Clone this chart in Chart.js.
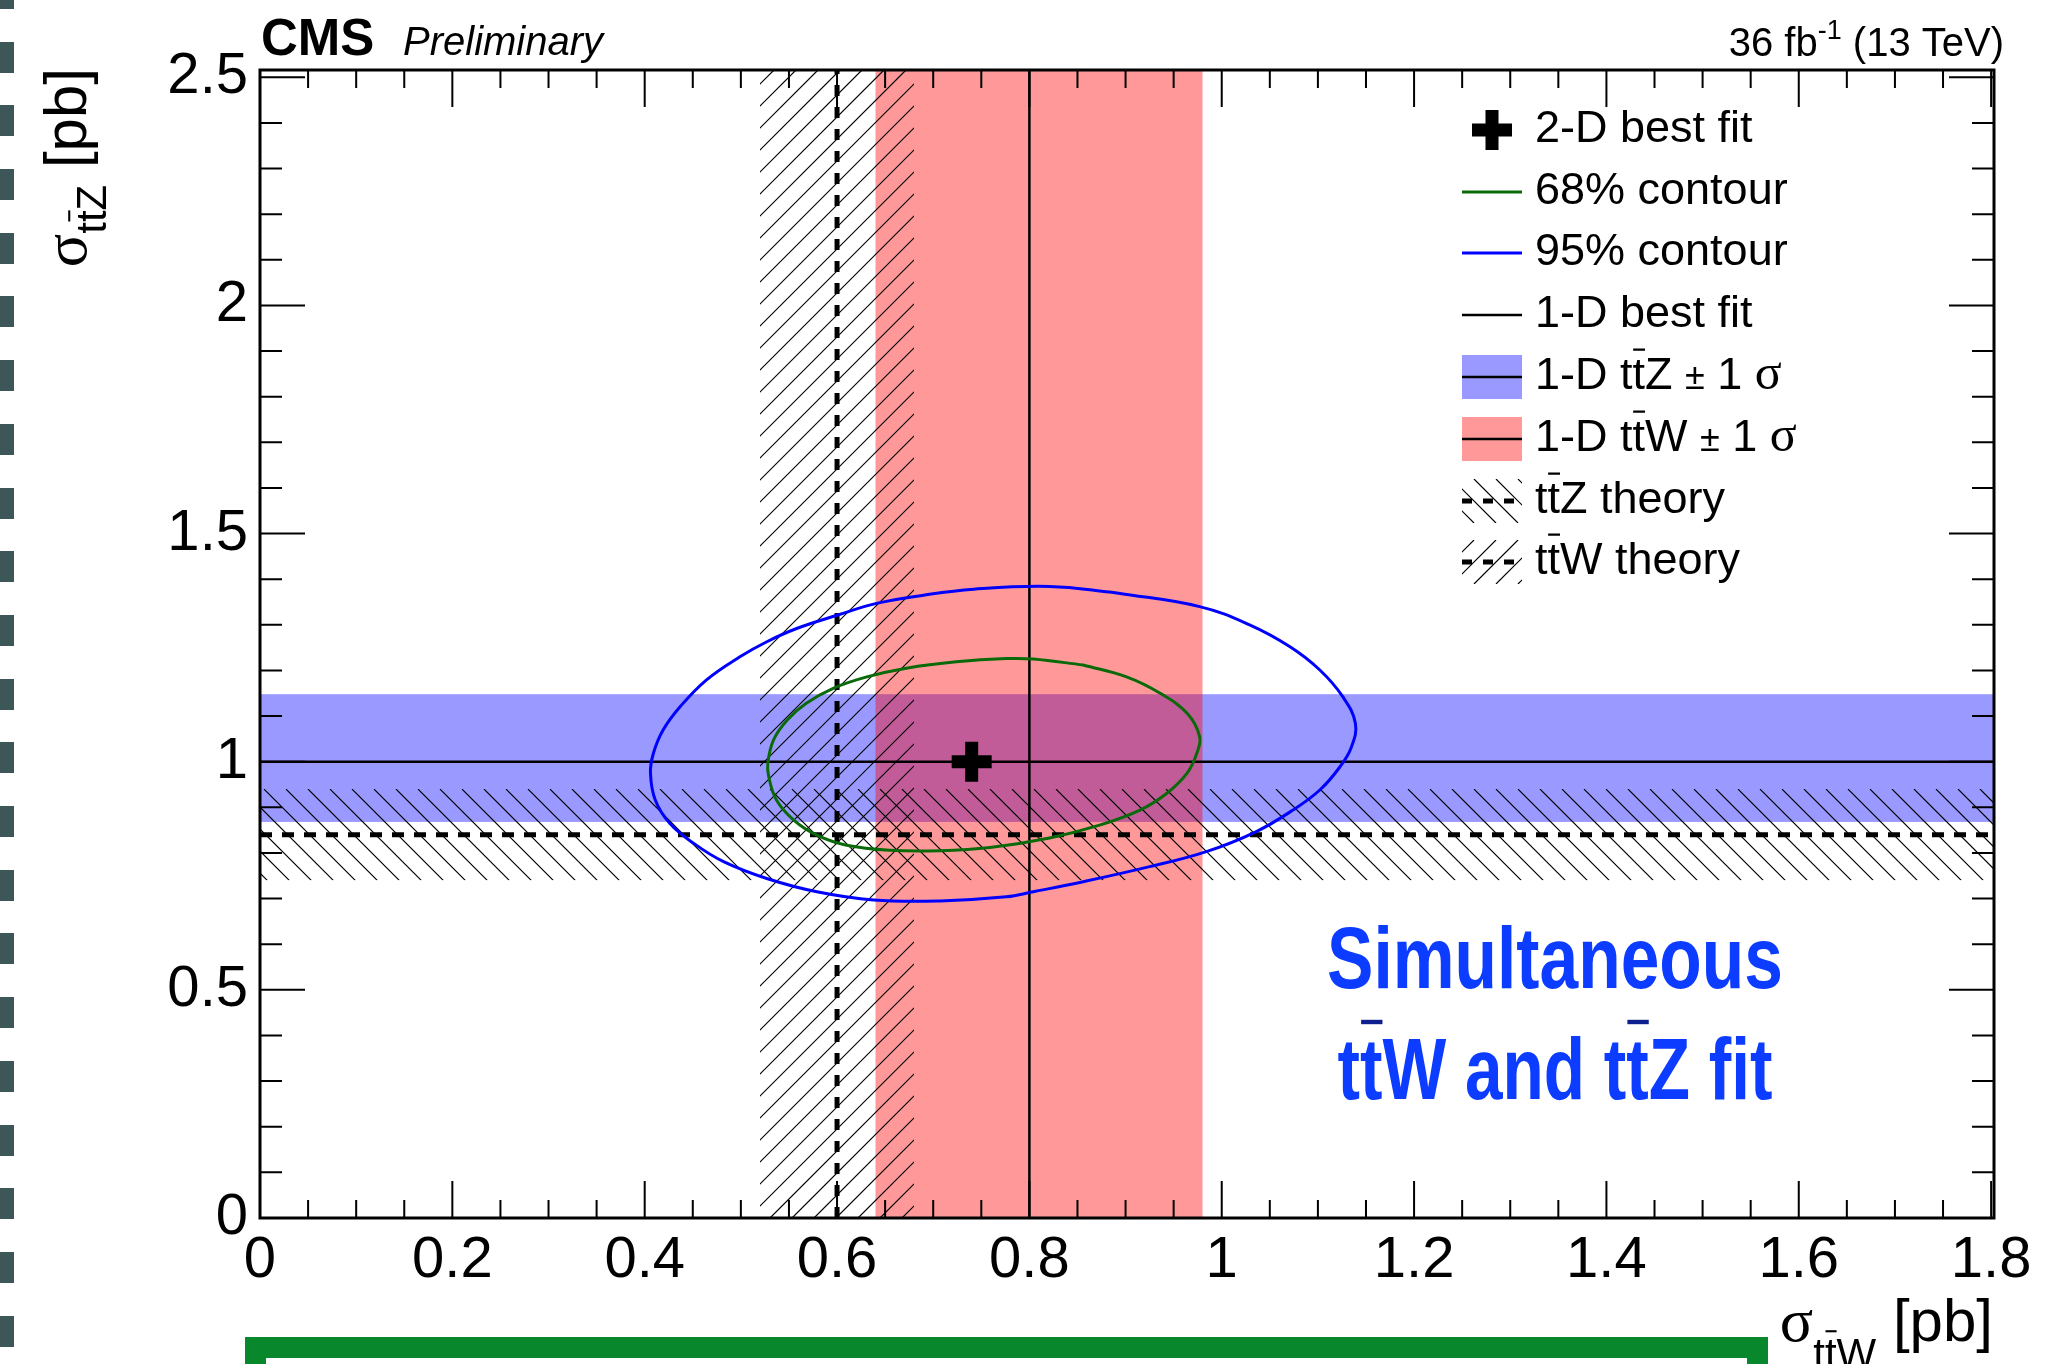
<!DOCTYPE html>
<html>
<head>
<meta charset="utf-8">
<script src="https://cdn.jsdelivr.net/npm/chart.js@4.4.1/dist/chart.umd.min.js"></script>
<style>
  html, body { margin: 0; padding: 0; background: #fff; }
  body { width: 2071px; height: 1364px; position: relative; overflow: hidden; }
  #c { position: absolute; left: 0; top: 0; }
  .dots {
    position: absolute; left: 0; top: -22px; width: 14px; height: 1420px;
    background: repeating-linear-gradient(to bottom, #3d5759 0 31px, transparent 31px 63.7px);
  }
  .box {
    position: absolute; left: 245px; top: 1337px; width: 1523px; height: 90px;
    border: 21px solid #08872d; box-sizing: border-box;
  }
</style>
</head>
<body>
<canvas id="c" width="2071" height="1364"></canvas>
<div class="dots"></div>
<div class="box"></div>
<script>
// axis ticks / ranges
const xTicks = [0, 0.2, 0.4, 0.6, 0.8, 1, 1.2, 1.4, 1.6, 1.8];
const yTicks = [0, 0.5, 1, 1.5, 2, 2.5];
const xRange = [0, 1.803];
const yRange = [0, 2.516];

// fit results (pb)
const bestFit2D = [0.74, 1.0];      // [ttW, ttZ]
const bestFit1D = [0.80, 1.0];      // [ttW, ttZ]
const ttwBand = [0.64, 0.98];       // 1-D ttW +- 1 sigma
const ttzBand = [0.868, 1.148];     // 1-D ttZ +- 1 sigma
const ttwTheory = [0.52, 0.60, 0.68]; // low, central, high
const ttzTheory = [0.74, 0.84, 0.94];

// 68% contour
const c68X = [0.856, 0.804, 0.776, 0.724, 0.672, 0.631, 0.596, 0.568, 0.548, 0.534, 0.528, 0.529, 0.537, 0.555, 0.579,
  0.610, 0.655, 0.707, 0.759, 0.821, 0.873, 0.915, 0.943, 0.964, 0.974, 0.977, 0.964, 0.936, 0.901, 0.856];
const c68Y = [1.212, 1.225, 1.226, 1.219, 1.205, 1.186, 1.161, 1.128, 1.091, 1.048, 0.997, 0.967, 0.916, 0.872, 0.839,
  0.817, 0.806, 0.805, 0.812, 0.833, 0.861, 0.894, 0.931, 0.975, 1.018, 1.055, 1.106, 1.150, 1.186, 1.212];

// 95% contour
const c95X = [0.891, 0.821, 0.742, 0.690, 0.641, 0.600, 0.558, 0.527, 0.499, 0.464, 0.437, 0.419, 0.409, 0.406, 0.411,
  0.426, 0.451, 0.482, 0.527, 0.579, 0.638, 0.707, 0.776, 0.804, 0.856, 0.925, 0.984, 1.036, 1.074, 1.102, 1.123,
  1.135, 1.139, 1.126, 1.102, 1.071, 1.029, 0.977, 0.891];
const c95Y = [1.370, 1.384, 1.378, 1.365, 1.347, 1.321, 1.292, 1.263, 1.230, 1.179, 1.121, 1.069, 1.018, 0.975, 0.916,
  0.865, 0.821, 0.781, 0.744, 0.715, 0.697, 0.695, 0.704, 0.715, 0.737, 0.770, 0.803, 0.847, 0.894, 0.938, 0.989,
  1.033, 1.084, 1.142, 1.201, 1.252, 1.300, 1.340, 1.370];

const SANS = '"Liberation Sans", Arial, Helvetica, sans-serif';
const SERIF = '"Liberation Serif", "Times New Roman", serif';
const BLUE_BAND = 'rgba(0,0,255,0.4)';
const RED_BAND = 'rgba(255,0,0,0.4)';

const pts = (xs, ys) => xs.map((x, i) => ({ x: x, y: ys[i] }));

function hatch(ctx, x0, y0, x1, y1, dir) {
  const gap = 22, h = y1 - y0;
  ctx.save();
  ctx.beginPath();
  ctx.rect(x0, y0, x1 - x0, y1 - y0);
  ctx.clip();
  ctx.strokeStyle = '#000';
  ctx.lineWidth = 1.2;
  ctx.beginPath();
  const start = Math.floor((x0 - h) / gap) * gap;
  for (let c = start; c <= x1 + h; c += gap) {
    if (dir > 0) { ctx.moveTo(c, y1); ctx.lineTo(c + h, y0); }
    else { ctx.moveTo(c, y0); ctx.lineTo(c + h, y1); }
  }
  ctx.stroke();
  ctx.restore();
}

// text made of runs: {t, size, bold, italic, serif, dy, bar}
function fontOf(r) {
  return (r.italic ? 'italic ' : '') + (r.bold ? 'bold ' : '') + r.size + 'px ' + (r.serif ? SERIF : SANS);
}
function runsWidth(ctx, runs) {
  let w = 0;
  runs.forEach(r => { ctx.font = fontOf(r); w += ctx.measureText(r.t).width; });
  return w;
}
function drawRuns(ctx, runs, x, y, align, barColor) {
  let cx = align === 'right' ? x - runsWidth(ctx, runs) : x;
  ctx.textAlign = 'left';
  ctx.textBaseline = 'alphabetic';
  runs.forEach(r => {
    ctx.font = fontOf(r);
    const w = ctx.measureText(r.t).width;
    const yy = y + (r.dy || 0);
    ctx.fillText(r.t, cx, yy);
    if (r.bar) {
      ctx.save();
      ctx.fillStyle = barColor || ctx.fillStyle;
      ctx.fillRect(cx + w * 0.05, yy - r.size * 0.9, w * 0.95, Math.max(2, r.size * 0.05));
      ctx.restore();
    }
    cx += w;
  });
}

const bands = {
  id: 'bands',
  beforeDatasetsDraw(chart) {
    const { ctx, chartArea: a, scales: { x, y } } = chart;
    ctx.save();
    ctx.fillStyle = BLUE_BAND;
    const zt = y.getPixelForValue(ttzBand[1]), zb = y.getPixelForValue(ttzBand[0]);
    ctx.fillRect(a.left, zt, a.width, zb - zt);
    ctx.fillStyle = RED_BAND;
    const wl = x.getPixelForValue(ttwBand[0]), wr = x.getPixelForValue(ttwBand[1]);
    ctx.fillRect(wl, a.top, wr - wl, a.height);
    hatch(ctx, a.left, y.getPixelForValue(ttzTheory[2]), a.right, y.getPixelForValue(ttzTheory[0]), -1);
    hatch(ctx, x.getPixelForValue(ttwTheory[0]), a.top, x.getPixelForValue(ttwTheory[2]), a.bottom, 1);
    ctx.restore();
  }
};

const frame = {
  id: 'frame',
  afterDatasetsDraw(chart) {
    const { ctx, chartArea: a, scales: { x, y } } = chart;
    ctx.save();
    ctx.strokeStyle = '#000';
    ctx.lineWidth = 2;
    ctx.beginPath();
    for (let i = 0; i <= 36; i++) {
      const px = x.getPixelForValue(i * 0.05);
      const len = i % 4 === 0 ? 37 : 18;
      ctx.moveTo(px, a.bottom); ctx.lineTo(px, a.bottom - len);
      ctx.moveTo(px, a.top); ctx.lineTo(px, a.top + len);
    }
    for (let i = 0; i <= 25; i++) {
      const py = y.getPixelForValue(i * 0.1);
      const len = i % 5 === 0 ? 45 : 22;
      ctx.moveTo(a.left, py); ctx.lineTo(a.left + len, py);
      ctx.moveTo(a.right, py); ctx.lineTo(a.right - len, py);
    }
    ctx.stroke();
    ctx.lineWidth = 3;
    ctx.strokeRect(a.left, a.top, a.width, a.height);
    ctx.restore();
  }
};

const texts = {
  id: 'texts',
  afterDraw(chart) {
    const ctx = chart.ctx;
    ctx.save();
    ctx.fillStyle = '#000';

    // header
    drawRuns(ctx, [{ t: 'CMS', size: 51, bold: true }], 261, 55, 'left');
    drawRuns(ctx, [{ t: 'Preliminary', size: 40, italic: true }], 403, 55, 'left');
    drawRuns(ctx, [
      { t: '36 fb', size: 40 }, { t: '-1', size: 27, dy: -17 }, { t: ' (13 TeV)', size: 40 }
    ], 2004, 56, 'right');

    // axis titles
    drawRuns(ctx, [
      { t: '\u03C3', size: 62, serif: true },
      { t: 't', size: 42, dy: 27 }, { t: 't', size: 42, dy: 27, bar: true }, { t: 'W', size: 42, dy: 27 },
      { t: ' [pb]', size: 60 }
    ], 1993, 1341, 'right');
    ctx.save();
    ctx.translate(86, 68);
    ctx.rotate(-Math.PI / 2);
    drawRuns(ctx, [
      { t: '\u03C3', size: 62, serif: true },
      { t: 't', size: 42, dy: 20 }, { t: 't', size: 42, dy: 20, bar: true }, { t: 'Z', size: 42, dy: 20 },
      { t: ' [pb]', size: 60 }
    ], 0, 0, 'right');
    ctx.restore();

    // legend
    const L = 1462, R = 1522, TX = 1535, rows = [130, 192, 253, 315, 377, 439, 501, 562];
    const seg = (yy, color, w, dash) => {
      ctx.save();
      ctx.strokeStyle = color; ctx.lineWidth = w; ctx.setLineDash(dash || []);
      ctx.beginPath(); ctx.moveTo(L, yy); ctx.lineTo(R, yy); ctx.stroke();
      ctx.restore();
    };
    // cross
    ctx.fillRect(1492 - 20, rows[0] - 6.5, 40, 13);
    ctx.fillRect(1492 - 6.5, rows[0] - 20, 13, 40);
    seg(rows[1], '#0a6a0a', 3);
    seg(rows[2], '#0000ff', 3);
    seg(rows[3], '#000', 2.5);
    ctx.fillStyle = '#9999ff'; ctx.fillRect(L, rows[4] - 22, R - L, 44);
    ctx.fillStyle = '#ff9999'; ctx.fillRect(L, rows[5] - 22, R - L, 44);
    ctx.fillStyle = '#000';
    seg(rows[4], '#000', 2.5);
    seg(rows[5], '#000', 2.5);
    hatch(ctx, L, rows[6] - 22, R, rows[6] + 22, -1);
    hatch(ctx, L, rows[7] - 22, R, rows[7] + 22, 1);
    seg(rows[6], '#000', 5, [10, 11]);
    seg(rows[7], '#000', 5, [10, 11]);

    const f = 45;
    const tt = (last) => [{ t: 't', size: f }, { t: 't', size: f, bar: true }, { t: last, size: f }];
    const sig = [{ t: ' ', size: f }, { t: '\u00B1', size: 36 }, { t: ' 1 ', size: f }, { t: '\u03C3', size: 50, serif: true }];
    const labels = [
      [{ t: '2-D best fit', size: f }],
      [{ t: '68% contour', size: f }],
      [{ t: '95% contour', size: f }],
      [{ t: '1-D best fit', size: f }],
      [{ t: '1-D ', size: f }].concat(tt('Z'), sig),
      [{ t: '1-D ', size: f }].concat(tt('W'), sig),
      tt('Z theory'),
      tt('W theory')
    ];
    labels.forEach((runs, i) => drawRuns(ctx, runs, TX, rows[i] + 12, 'left'));

    // annotation
    const big = 88;
    const line1 = [{ t: 'Simultaneous', size: big, bold: true }];
    const line2 = [
      { t: 't', size: big, bold: true }, { t: 't', size: big, bold: true, bar: true },
      { t: 'W and ', size: big, bold: true },
      { t: 't', size: big, bold: true }, { t: 't', size: big, bold: true, bar: true },
      { t: 'Z fit', size: big, bold: true }
    ];
    ctx.fillStyle = '#0b3cff';
    [[line1, 988, 456], [line2, 1099, 435]].forEach(([runs, base, target]) => {
      const w = runsWidth(ctx, runs);
      ctx.save();
      ctx.translate(1555 - target / 2, base);
      ctx.scale(target / w, 1);
      drawRuns(ctx, runs, 0, 0, 'left', '#0d1f8c');
      ctx.restore();
    });
    ctx.restore();
  }
};

const lineSet = (data, color, width, dash) => ({
  data: data, showLine: true, pointRadius: 0, borderColor: color, borderWidth: width,
  borderDash: dash || [], fill: false, tension: 0
});

const c68 = lineSet(pts(c68X, c68Y), '#0a6a0a', 3);
c68.tension = 0.4;
const c95 = lineSet(pts(c95X, c95Y), '#0000ff', 3);
c95.tension = 0.4;

new Chart(document.getElementById('c'), {
  type: 'scatter',
  data: {
    datasets: [
      {
        data: [{ x: bestFit2D[0], y: bestFit2D[1] }],
        pointStyle: 'cross', pointRadius: 20, pointBorderWidth: 13,
        pointBorderColor: '#000', pointBackgroundColor: '#000', showLine: false
      },
      c68,
      c95,
      lineSet([{ x: bestFit1D[0], y: yRange[0] }, { x: bestFit1D[0], y: yRange[1] }], '#000', 2.5),
      lineSet([{ x: xRange[0], y: bestFit1D[1] }, { x: xRange[1], y: bestFit1D[1] }], '#000', 2.5),
      lineSet([{ x: ttwTheory[1], y: yRange[0] }, { x: ttwTheory[1], y: yRange[1] }], '#000', 5, [11, 11]),
      lineSet([{ x: xRange[0], y: ttzTheory[1] }, { x: xRange[1], y: ttzTheory[1] }], '#000', 5, [12, 10])
    ]
  },
  options: {
    responsive: false,
    animation: false,
    devicePixelRatio: 1,
    events: [],
    layout: { padding: { top: 70, right: 77, left: 0, bottom: 0 } },
    plugins: { legend: { display: false }, tooltip: { enabled: false } },
    scales: {
      x: {
        type: 'linear', min: xRange[0], max: xRange[1],
        afterBuildTicks: s => { s.ticks = xTicks.map(v => ({ value: v })); },
        afterFit: s => { s.height = 146; },
        grid: { display: false, drawTicks: false, tickLength: 0 },
        border: { display: false },
        ticks: {
          autoSkip: false, maxRotation: 0, padding: 8, color: '#000',
          font: { family: SANS, size: 58 }, callback: v => String(v)
        }
      },
      y: {
        type: 'linear', min: yRange[0], max: yRange[1],
        afterBuildTicks: s => { s.ticks = yTicks.map(v => ({ value: v })); },
        afterFit: s => { s.width = 260; },
        grid: { display: false, drawTicks: false, tickLength: 0 },
        border: { display: false },
        ticks: {
          autoSkip: false, padding: 12, color: '#000',
          font: { family: SANS, size: 58 }, callback: v => String(v)
        }
      }
    }
  },
  plugins: [bands, frame, texts]
});
</script>
</body>
</html>
